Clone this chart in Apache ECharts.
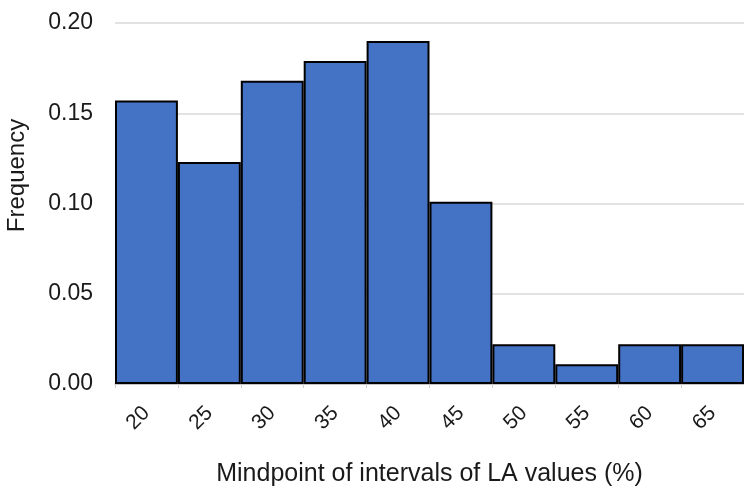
<!DOCTYPE html>
<html>
<head>
<meta charset="utf-8">
<script src="https://cdn.jsdelivr.net/npm/echarts@6/dist/echarts.min.js"></script>
<style>
  html, body { margin: 0; padding: 0; background: #fff; }
  #main { width: 744px; height: 489px; }
</style>
</head>
<body>
<div id="main"></div>
<script>
  // midpoints of intervals and their frequencies
  var midpoints = ['20', '25', '30', '35', '40', '45', '50', '55', '60', '65'];
  var frequency = [0.157, 0.123, 0.168, 0.179, 0.190, 0.101, 0.022, 0.011, 0.022, 0.022];
  var yTicks = [0, 0.05, 0.10, 0.15, 0.20];

  var myChart = echarts.init(document.getElementById('main'));
  var font = 'Liberation Sans, Arial, sans-serif';

  var option = {
    animation: false,
    grid: { left: 115, right: 0, top: 23, bottom: 105, outerBoundsMode: 'none', containLabel: false },
    xAxis: {
      type: 'category',
      data: midpoints,
      name: 'Mindpoint of intervals of LA values (%)',
      nameLocation: 'middle',
      nameGap: 78,
      nameTextStyle: { fontFamily: font, fontSize: 25, color: '#1a1a1a' },
      axisLine: { lineStyle: { color: '#bfbfbf', width: 1.5 } },
      axisTick: { show: true, length: 4, lineStyle: { color: '#d0d0d0' } },
      axisLabel: { rotate: 45, margin: 26, fontFamily: font, fontSize: 21, color: '#1a1a1a' }
    },
    yAxis: {
      type: 'value',
      min: yTicks[0],
      max: yTicks[yTicks.length - 1],
      interval: 0.05,
      name: 'Frequency',
      nameLocation: 'middle',
      nameGap: 86,
      // shift the title up a bit, as in the original
      nameTextStyle: { fontFamily: font, fontSize: 24, color: '#1a1a1a', padding: [0, 0, 0, 56] },
      axisLine: { show: false },
      axisTick: { show: false },
      splitLine: { lineStyle: { color: '#d9d9d9', width: 1.5 } },
      axisLabel: {
        margin: 22, fontFamily: font, fontSize: 23, color: '#1a1a1a',
        formatter: function (v) { return v.toFixed(2); }
      }
    },
    series: [{
      type: 'bar',
      data: frequency,
      barCategoryGap: 0,
      itemStyle: { color: '#4472c4', borderColor: '#000', borderWidth: 2 }
    }]
  };
  myChart.setOption(option);
</script>
</body>
</html>
